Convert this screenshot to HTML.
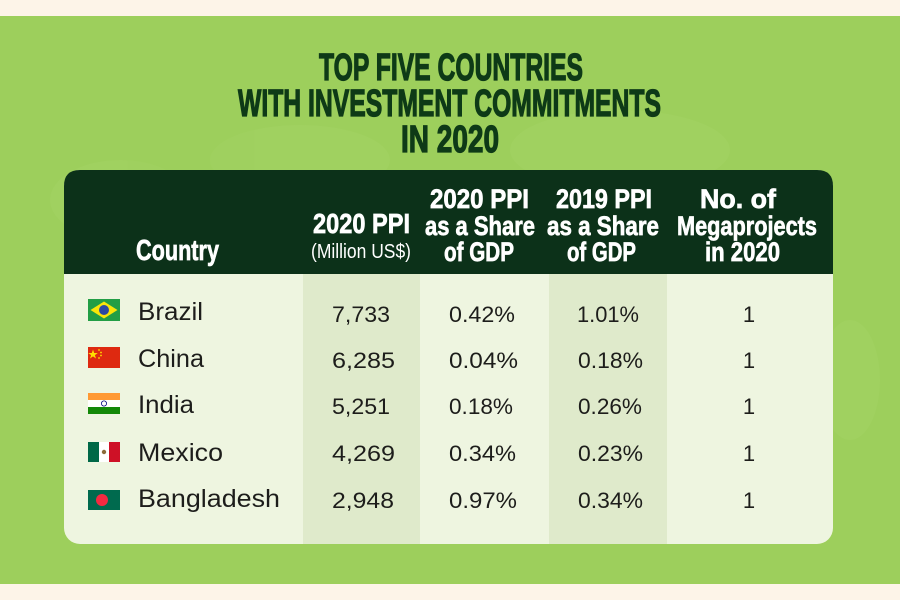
<!DOCTYPE html>
<html>
<head>
<meta charset="utf-8">
<style>
  html,body{margin:0;padding:0;background:#fdf4e8;}
  svg{display:block;}
  .t{font-family:"Liberation Sans",sans-serif;font-weight:bold;fill:#0e3a17;stroke:#0e3a17;stroke-width:1.3;}
  .h{font-family:"Liberation Sans",sans-serif;font-weight:bold;fill:#ffffff;stroke:#ffffff;stroke-width:0.7;}
  .hs{font-family:"Liberation Sans",sans-serif;font-weight:normal;fill:#ffffff;}
  .n{font-family:"Liberation Sans",sans-serif;fill:#1d1d1b;}
</style>
</head>
<body>
<svg width="900" height="600" viewBox="0 0 900 600" xmlns="http://www.w3.org/2000/svg">
  <rect x="0" y="0" width="900" height="600" fill="#fdf4e8"/>
  <rect x="0" y="16" width="900" height="568" fill="#9dcf5c"/>
  <!-- faint map blobs -->
  <g fill="#a5d466" opacity="0.35">
    <ellipse cx="120" cy="200" rx="70" ry="40"/>
    <ellipse cx="300" cy="160" rx="90" ry="35"/>
    <ellipse cx="620" cy="150" rx="110" ry="40"/>
    <ellipse cx="850" cy="380" rx="30" ry="60"/>
  </g>

  <!-- Title -->
  <text class="t" x="319" y="80" font-size="38" textLength="264" lengthAdjust="spacingAndGlyphs">TOP FIVE COUNTRIES</text>
  <text class="t" x="238" y="116" font-size="38" textLength="423" lengthAdjust="spacingAndGlyphs">WITH INVESTMENT COMMITMENTS</text>
  <text class="t" x="401" y="152" font-size="38" textLength="98" lengthAdjust="spacingAndGlyphs">IN 2020</text>

  <!-- Card -->
  <rect x="64" y="170" width="769" height="374" rx="16" ry="16" fill="#eef5e0"/>
  <rect x="303" y="274" width="117" height="270" fill="#dfeacb"/>
  <rect x="549" y="274" width="118" height="270" fill="#dfeacb"/>
  <path d="M64,274 L64,186 Q64,170 80,170 L817,170 Q833,170 833,186 L833,274 Z" fill="#0c3119"/>

  <!-- Header text -->
  <text class="h" x="136" y="260" font-size="29" textLength="83" lengthAdjust="spacingAndGlyphs">Country</text>
  <text class="h" x="313" y="233" font-size="28" textLength="97" lengthAdjust="spacingAndGlyphs">2020 PPI</text>
  <text class="hs" x="311" y="258" font-size="20" textLength="100" lengthAdjust="spacingAndGlyphs">(Million US$)</text>

  <text class="h" x="430" y="208" font-size="27" textLength="99" lengthAdjust="spacingAndGlyphs">2020 PPI</text>
  <text class="h" x="425" y="235" font-size="27" textLength="110" lengthAdjust="spacingAndGlyphs">as a Share</text>
  <text class="h" x="444" y="261" font-size="27" textLength="70" lengthAdjust="spacingAndGlyphs">of GDP</text>

  <text class="h" x="556" y="208" font-size="27" textLength="96" lengthAdjust="spacingAndGlyphs">2019 PPI</text>
  <text class="h" x="547" y="235" font-size="27" textLength="112" lengthAdjust="spacingAndGlyphs">as a Share</text>
  <text class="h" x="567" y="261" font-size="27" textLength="69" lengthAdjust="spacingAndGlyphs">of GDP</text>

  <text class="h" x="700" y="208" font-size="27" textLength="76" lengthAdjust="spacingAndGlyphs">No. of</text>
  <text class="h" x="677" y="235" font-size="27" textLength="140" lengthAdjust="spacingAndGlyphs">Megaprojects</text>
  <text class="h" x="705" y="261" font-size="27" textLength="75" lengthAdjust="spacingAndGlyphs">in 2020</text>

  <!-- Flags -->
  <!-- Brazil -->
  <rect x="88" y="299" width="32" height="22" fill="#229e45"/>
  <polygon points="104,301.5 117.5,310 104,318.5 90.5,310" fill="#f8e509"/>
  <circle cx="104" cy="310" r="5" fill="#2b49a3"/>
  <!-- China -->
  <rect x="88" y="347" width="32" height="21" fill="#de2910"/>
  <polygon points="93,349.5 94.2,353 97.8,353 94.9,355.1 96,358.5 93,356.4 90,358.5 91.1,355.1 88.2,353 91.8,353" fill="#ffde00"/>
  <circle cx="99" cy="350" r="0.9" fill="#ffde00"/>
  <circle cx="101" cy="352.5" r="0.9" fill="#ffde00"/>
  <circle cx="101" cy="355.5" r="0.9" fill="#ffde00"/>
  <circle cx="99" cy="358" r="0.9" fill="#ffde00"/>
  <!-- India -->
  <rect x="88" y="393" width="32" height="7" fill="#ff9933"/>
  <rect x="88" y="400" width="32" height="7" fill="#ffffff"/>
  <rect x="88" y="407" width="32" height="7" fill="#138808"/>
  <circle cx="104" cy="403.5" r="2.6" fill="none" stroke="#000080" stroke-width="0.8"/>
  <!-- Mexico -->
  <rect x="88" y="442" width="11" height="20" fill="#006847"/>
  <rect x="99" y="442" width="10" height="20" fill="#ffffff"/>
  <rect x="109" y="442" width="11" height="20" fill="#ce1126"/>
  <circle cx="104" cy="452" r="2.2" fill="#8b6b3a"/>
  <!-- Bangladesh -->
  <rect x="88" y="490" width="32" height="20" fill="#006a4e"/>
  <circle cx="102" cy="500" r="6" fill="#f42a41"/>

  <!-- Country names -->
  <text class="n" x="138" y="320" font-size="25" textLength="65" lengthAdjust="spacingAndGlyphs">Brazil</text>
  <text class="n" x="138" y="367" font-size="25" textLength="66" lengthAdjust="spacingAndGlyphs">China</text>
  <text class="n" x="138" y="413" font-size="25" textLength="56" lengthAdjust="spacingAndGlyphs">India</text>
  <text class="n" x="138" y="461" font-size="25" textLength="85" lengthAdjust="spacingAndGlyphs">Mexico</text>
  <text class="n" x="138" y="507" font-size="25" textLength="142" lengthAdjust="spacingAndGlyphs">Bangladesh</text>

  <!-- Column 2 -->
  <text class="n" x="332" y="322" font-size="22" textLength="58" lengthAdjust="spacingAndGlyphs">7,733</text>
  <text class="n" x="332" y="368" font-size="22" textLength="63" lengthAdjust="spacingAndGlyphs">6,285</text>
  <text class="n" x="332" y="414" font-size="22" textLength="58" lengthAdjust="spacingAndGlyphs">5,251</text>
  <text class="n" x="332" y="461" font-size="22" textLength="63" lengthAdjust="spacingAndGlyphs">4,269</text>
  <text class="n" x="332" y="508" font-size="22" textLength="62" lengthAdjust="spacingAndGlyphs">2,948</text>

  <!-- Column 3 -->
  <text class="n" x="449" y="322" font-size="22" textLength="66" lengthAdjust="spacingAndGlyphs">0.42%</text>
  <text class="n" x="449" y="368" font-size="22" textLength="69" lengthAdjust="spacingAndGlyphs">0.04%</text>
  <text class="n" x="449" y="414" font-size="22" textLength="64" lengthAdjust="spacingAndGlyphs">0.18%</text>
  <text class="n" x="449" y="461" font-size="22" textLength="67" lengthAdjust="spacingAndGlyphs">0.34%</text>
  <text class="n" x="449" y="508" font-size="22" textLength="68" lengthAdjust="spacingAndGlyphs">0.97%</text>

  <!-- Column 4 -->
  <text class="n" x="577" y="322" font-size="22" textLength="62" lengthAdjust="spacingAndGlyphs">1.01%</text>
  <text class="n" x="578" y="368" font-size="22" textLength="65" lengthAdjust="spacingAndGlyphs">0.18%</text>
  <text class="n" x="578" y="414" font-size="22" textLength="64" lengthAdjust="spacingAndGlyphs">0.26%</text>
  <text class="n" x="578" y="461" font-size="22" textLength="65" lengthAdjust="spacingAndGlyphs">0.23%</text>
  <text class="n" x="578" y="508" font-size="22" textLength="65" lengthAdjust="spacingAndGlyphs">0.34%</text>

  <!-- Column 5 -->
  <text class="n" x="749" y="322" font-size="22" text-anchor="middle">1</text>
  <text class="n" x="749" y="368" font-size="22" text-anchor="middle">1</text>
  <text class="n" x="749" y="414" font-size="22" text-anchor="middle">1</text>
  <text class="n" x="749" y="461" font-size="22" text-anchor="middle">1</text>
  <text class="n" x="749" y="508" font-size="22" text-anchor="middle">1</text>
</svg>
</body>
</html>
